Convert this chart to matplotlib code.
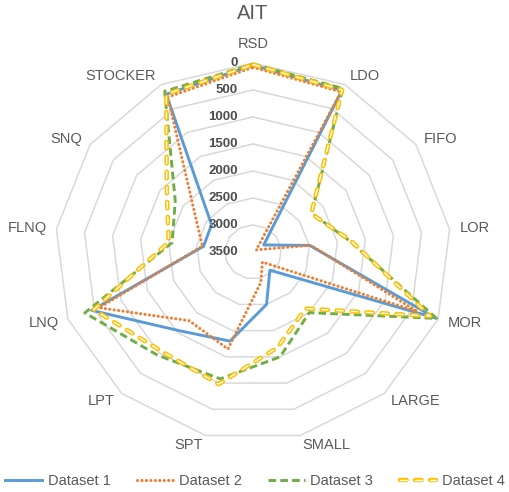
import numpy as np
import matplotlib
matplotlib.use('Agg')
import matplotlib.pyplot as plt

plt.rcParams['font.family'] = ['Liberation Sans', 'DejaVu Sans']
plt.rcParams['lines.scale_dashes'] = False

categories = ['RSD', 'LDO', 'FIFO', 'LOR', 'MOR', 'LARGE', 'SMALL', 'SPT', 'LPT',
              'LNQ', 'FLNQ', 'SNQ', 'STOCKER']
dataset1 = [40, 120, 3270, 2490, 50, 3050, 2500, 1800, 1550, 450, 2620, 2610, 200]
dataset2 = [80, 150, 3430, 2470, 400, 3250, 2920, 1650, 1800, 590, 2600, 2250, 260]
dataset3 = [20, 80, 2240, 1780, 30, 2000, 1500, 1080, 950, 320, 2060, 1830, 140]
dataset4 = [30, 110, 2250, 1760, 150, 2100, 1680, 980, 1050, 490, 2000, 1650, 200]
series_names = ['Dataset 1', 'Dataset 2', 'Dataset 3', 'Dataset 4']
ring_values = [0, 500, 1000, 1500, 2000, 2500, 3000]
tick_values = [0, 500, 1000, 1500, 2000, 2500, 3000, 3500]
title = 'AIT'
r_max = 3500

W, H = 510, 492
fig = plt.figure(figsize=(W / 100, H / 100), dpi=100)
cx, cy, rx, ry = 253, 252, 198, 189
ax = fig.add_axes([(cx - rx) / W, (H - cy - ry) / H, 2 * rx / W, 2 * ry / H],
                  projection='polar')
ax.set_aspect('auto')
ax.set_theta_zero_location('N')
ax.set_theta_direction(-1)
ax.grid(False)
ax.spines['polar'].set_visible(False)
ax.set_xticks([])
ax.set_yticks([])
ax.set_ylim(r_max, 0)

n = len(categories)
theta = np.arange(n) * 2 * np.pi / n
tc = np.append(theta, theta[0])


def closed(v):
    return list(v) + [v[0]]


for rv in ring_values:
    ax.plot(tc, [rv] * (n + 1), color='#D9D9D9', lw=1.1, zorder=1, clip_on=False)

l1, = ax.plot(tc, closed(dataset1), color='#5B9BD5', lw=2.1, zorder=3, clip_on=False)
l2, = ax.plot(tc, closed(dataset2), color='#ED7D31', lw=2.2, ls=(0, (0.1, 3.1)),
              dash_capstyle='round', zorder=4, clip_on=False)
l3, = ax.plot(tc, closed(dataset3), color='#70AD47', lw=2.1, ls=(0, (5.5, 3.0)),
              zorder=5, clip_on=False)
l4a, = ax.plot(tc, closed(dataset4), color='#FFC000', lw=3.2, ls=(0, (4.7, 6.1)),
               dash_capstyle='round', zorder=6, clip_on=False)
l4b, = ax.plot(tc, closed(dataset4), color='white', lw=1.0, ls=(0, (4.7, 6.1)),
               dash_capstyle='round', zorder=7, clip_on=False)

for th, name in zip(theta, categories):
    s, c = np.sin(th), np.cos(th)
    if abs(s) < 0.1:
        ha, va, d = 'center', 'bottom', 9.0
    elif s > 0:
        ha, va, d = 'left', 'center', 7.2
    else:
        ha, va, d = 'right', 'center', 7.2
    ax.annotate(name, xy=(th, 0), xytext=(d * s, d * c), textcoords='offset points',
                ha=ha, va=va, fontsize=10.5, color='#595959', annotation_clip=False)

for tv in tick_values:
    ax.annotate(f'{tv}', xy=(0, tv), xytext=(-10.8, 0), textcoords='offset points',
                ha='right', va='center', fontsize=9.5, fontweight='bold',
                color='#4D4D4D', annotation_clip=False)

fig.text(253 / W, 1 - 13.5 / H, title, ha='center', va='center', fontsize=14.5,
         color='#595959')

fig.legend([l1, l2, l3, (l4a, l4b)], series_names, loc='center',
           bbox_to_anchor=(0.5, 1 - 481 / H), ncol=4, frameon=False, fontsize=10.5,
           handlelength=2.5, handletextpad=0.4, columnspacing=1.8,
           labelcolor='#595959')

fig.savefig('out.png', dpi=100)
